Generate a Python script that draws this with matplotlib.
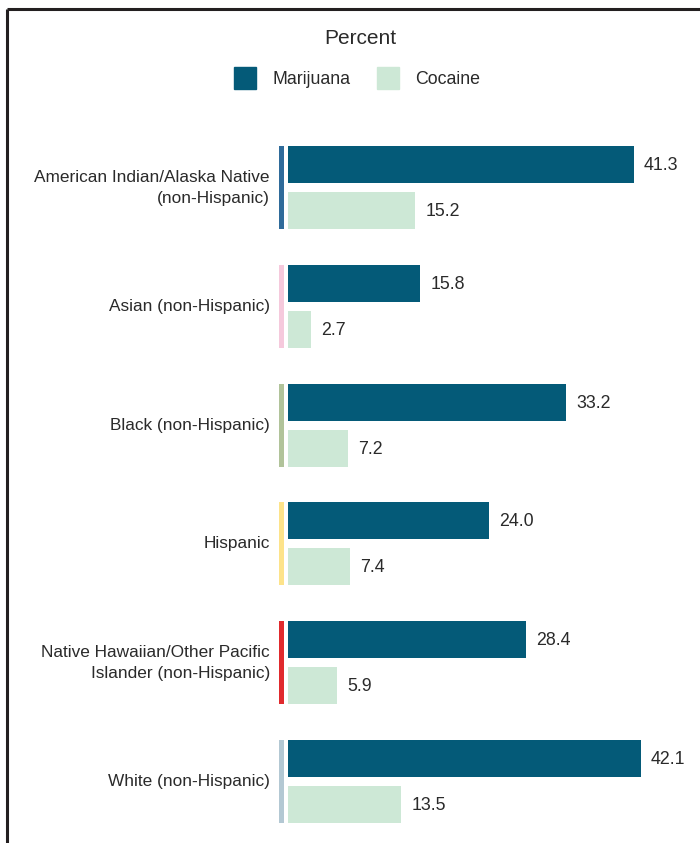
import numpy as np
import matplotlib.pyplot as plt
from matplotlib.lines import Line2D
from matplotlib.patches import Rectangle

groups = ['American Indian/Alaska Native\n(non-Hispanic)', 'Asian (non-Hispanic)',
          'Black (non-Hispanic)', 'Hispanic',
          'Native Hawaiian/Other Pacific\nIslander (non-Hispanic)', 'White (non-Hispanic)']
marijuana = [41.3, 15.8, 33.2, 24.0, 28.4, 42.1]
cocaine = [15.2, 2.7, 7.2, 7.4, 5.9, 13.5]
stripe_colors = ['#2f6b9a', '#f5c9dc', '#b1c39a', '#fde38a', '#e02a2d', '#b3c8d3']

c_mar = '#045a78'
c_coc = '#cde8d6'
txt = '#2a2a2a'
plt.rcParams['font.family'] = ['Liberation Sans', 'DejaVu Sans']

W, H = 700, 843
fig = plt.figure(figsize=(W / 100, H / 100), dpi=100)

# axes from x=270px to right edge, full height
ax = fig.add_axes([270 / W, 0, 1 - 270 / W, 1])
ppu = 8.38  # pixels per percent
x0 = 288
ax.set_xlim(-(x0 - 270) / ppu, (W - x0) / ppu)
sp = 118.8
ax.set_ylim(5 + (H - 781.5) / sp, -187.5 / sp)
ax.axis('off')

y = np.arange(len(groups))
off = 23 / sp
bh = 37 / sp
ax.barh(y - off, marijuana, height=bh, color=c_mar)
ax.barh(y + off, cocaine, height=bh, color=c_coc)
# colored group stripes left of bars
ax.barh(y, 5 / ppu, left=-9 / ppu, height=83 / sp, color=stripe_colors)

for i in range(len(groups)):
    ax.text(marijuana[i] + 10 / ppu, y[i] - off + 1 / sp, f'{marijuana[i]:.1f}', va='center',
            ha='left', fontsize=12.8, color=txt)
    ax.text(cocaine[i] + 10 / ppu, y[i] + off + 1 / sp, f'{cocaine[i]:.1f}', va='center',
            ha='left', fontsize=12.8, color=txt)
    ax.text(-18 / ppu, y[i], groups[i], va='center', ha='right', fontsize=12.4,
            color=txt, linespacing=1.5, clip_on=False)

# title and legend
fig.text(360 / W, 1 - 38 / H, 'Percent', ha='center', va='center', fontsize=15, color=txt)
fig.add_artist(Rectangle((234 / W, 1 - 89 / H), 22 / W, 22 / H, color=c_mar,
                         transform=fig.transFigure))
fig.text(272 / W, 1 - 79 / H, 'Marijuana', ha='left', va='center', fontsize=12.8, color=txt)
fig.add_artist(Rectangle((377 / W, 1 - 89 / H), 22 / W, 22 / H, color=c_coc,
                         transform=fig.transFigure))
fig.text(415 / W, 1 - 79 / H, 'Cocaine', ha='left', va='center', fontsize=12.8, color=txt)

# frame (top and left)
fig.add_artist(Line2D([7 / W, 1], [1 - 9 / H, 1 - 9 / H], color='#231f20', lw=2.2,
                      transform=fig.transFigure, solid_capstyle='butt'))
fig.add_artist(Line2D([7 / W, 7 / W], [0, 1 - 9 / H], color='#231f20', lw=2.2,
                      transform=fig.transFigure, solid_capstyle='butt'))

fig.savefig('out.png', dpi=100)
